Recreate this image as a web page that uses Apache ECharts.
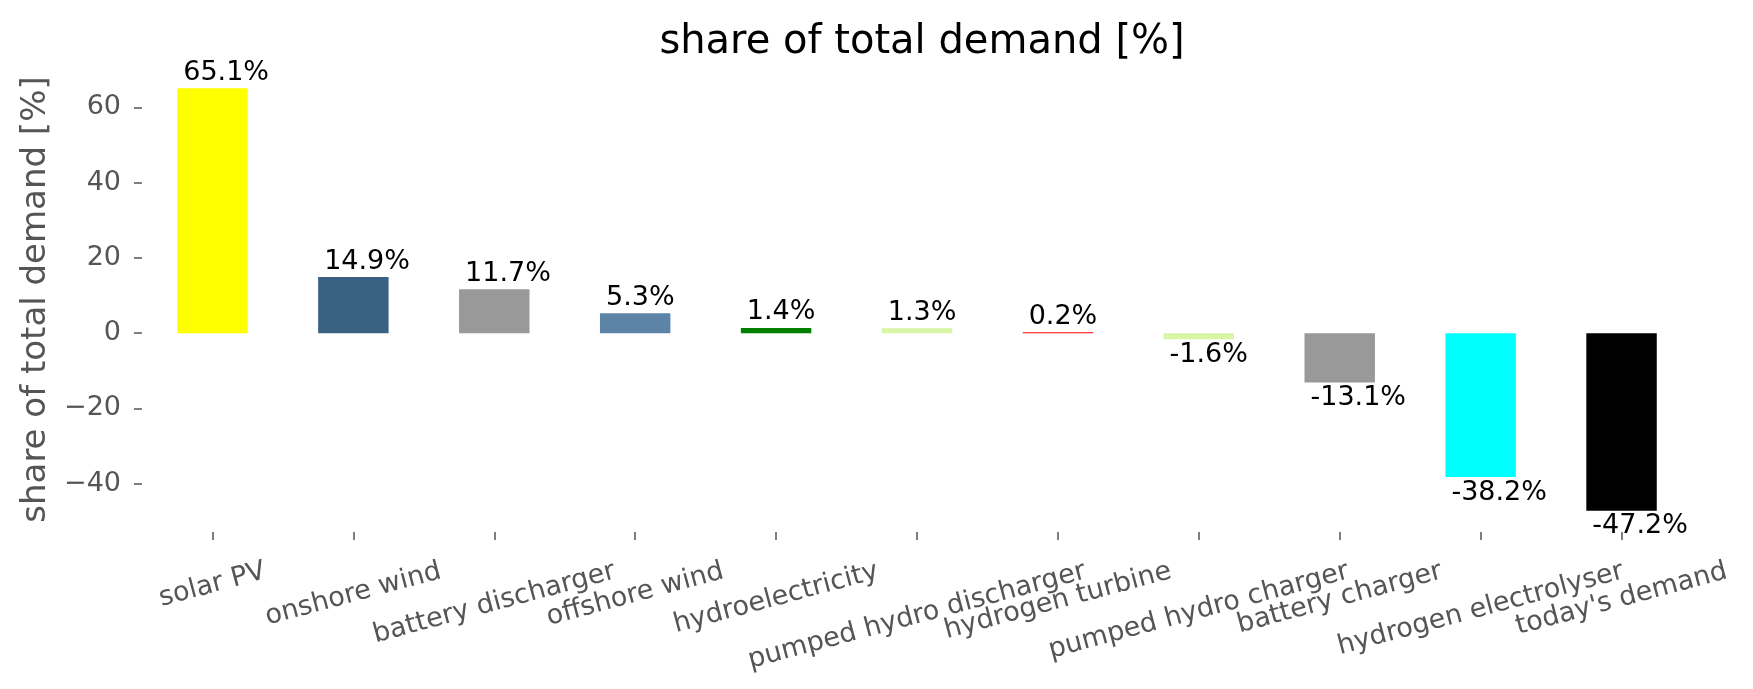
<!DOCTYPE html>
<html>
<head>
<meta charset="utf-8">
<script src="https://cdn.jsdelivr.net/npm/echarts@6/dist/echarts.min.js"></script>
<style>
  html, body { margin: 0; padding: 0; background: #ffffff; }
  #chart { width: 1753px; height: 689px; }
</style>
</head>
<body>
<div id="chart"></div>
<script>
const categories = ['solar PV', 'onshore wind', 'battery discharger', 'offshore wind', 'hydroelectricity',
  'pumped hydro discharger', 'hydrogen turbine', 'pumped hydro charger', 'battery charger',
  'hydrogen electrolyser', "today's demand"];
const shares = [65.1, 14.9, 11.7, 5.3, 1.4, 1.3, 0.2, -1.6, -13.1, -38.2, -47.2];
const barColors = ['#ffff00', '#3b6182', '#999999', '#5d84a6', '#008000', '#d9f5a6',
  '#ff0000', '#d9f5a6', '#999999', '#00ffff', '#000000'];
const yTicks = [-40, -20, 0, 20, 40, 60];
const titleText = 'share of total demand [%]';

const FONT = '"DejaVu Sans", sans-serif';
const GRAY = '#555555';
const LABEL_SIZE = 27;
const ROT = 15 * Math.PI / 180;

// matplotlib-like 5% margins
const dMax = Math.max.apply(null, shares), dMin = Math.min.apply(null, shares);
const span = dMax - dMin;
const yMin = dMin - 0.05 * span, yMax = dMax + 0.05 * span;

// per-label shifts so rotated labels have a common top edge (like matplotlib)
const mctx = document.createElement('canvas').getContext('2d');
mctx.font = LABEL_SIZE + 'px ' + FONT;
const rich = {};
categories.forEach(function (c, i) {
  const L = mctx.measureText(c).width;
  const D = L * Math.sin(ROT) / 2;
  rich['c' + i] = {
    fontSize: LABEL_SIZE, fontFamily: FONT, color: GRAY,
    padding: [2 * D * Math.cos(ROT), 2 * D * Math.sin(ROT), 0, 0]
  };
});

const chart = echarts.init(document.getElementById('chart'), null, { renderer: 'canvas' });
chart.setOption({
  backgroundColor: '#ffffff',
  animation: false,
  title: {
    text: titleText,
    left: 917, top: 18, textAlign: 'center',
    textStyle: { fontFamily: FONT, fontSize: 40, fontWeight: 'normal', color: '#000000' }
  },
  grid: { left: 142, right: 61, top: 67, bottom: 157, containLabel: false },
  xAxis: {
    type: 'category',
    data: categories,
    axisLine: { show: false, onZero: false },
    axisTick: { show: true, alignWithLabel: true, length: 8, lineStyle: { color: GRAY, width: 1.5 } },
    axisLabel: {
      interval: 0, rotate: 15, align: 'center', verticalAlign: 'middle', margin: 39,
      fontFamily: FONT, fontSize: LABEL_SIZE, color: GRAY,
      formatter: function (v, i) { return '{c' + i + '|' + v + '}'; },
      rich: rich
    },
    splitLine: { show: false }
  },
  yAxis: {
    type: 'value',
    min: yMin, max: yMax,
    name: titleText,
    nameLocation: 'middle',
    nameGap: 87,
    nameTextStyle: { fontFamily: FONT, fontSize: 34, color: GRAY },
    axisLine: { show: false },
    axisTick: { show: true, length: 8, customValues: yTicks, lineStyle: { color: GRAY, width: 1.5 } },
    axisLabel: {
      customValues: yTicks, margin: 21, fontFamily: FONT, fontSize: LABEL_SIZE, color: GRAY,
      formatter: function (v) { return String(v).replace('-', '\u2212'); }
    },
    splitLine: { show: false }
  },
  series: [{
    type: 'bar',
    barWidth: '50%',
    barMinHeight: 1,
    data: shares.map(function (v, i) {
      const pos = v >= 0;
      return {
        value: v,
        itemStyle: { color: barColors[i] },
        label: {
          show: true,
          position: pos ? ['0%', '0%'] : ['0%', '100%'],
          align: 'left',
          verticalAlign: pos ? 'bottom' : 'top',
          offset: pos ? [6, -2] : [6, 2],
          formatter: v.toFixed(1) + '%',
          fontFamily: FONT, fontSize: LABEL_SIZE, color: '#000000'
        }
      };
    })
  }]
});
</script>
</body>
</html>
